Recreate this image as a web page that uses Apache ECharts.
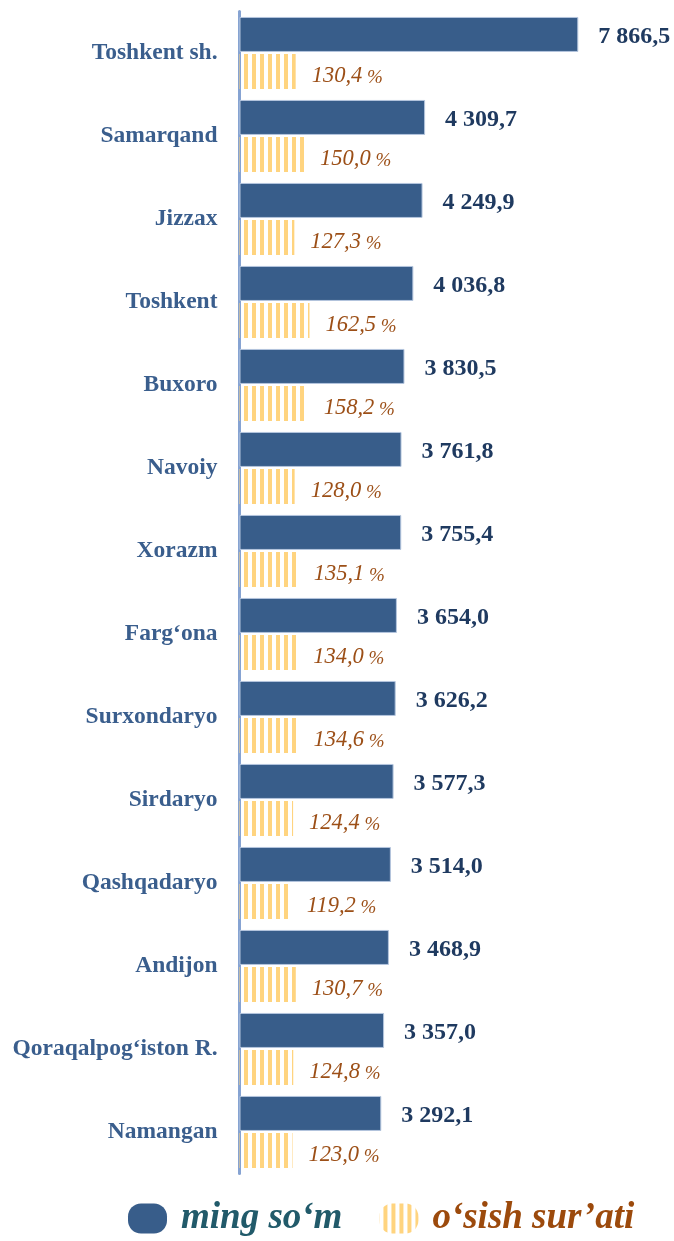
<!DOCTYPE html>
<html>
<head>
<meta charset="utf-8">
<script src="https://cdn.jsdelivr.net/npm/echarts@6/dist/echarts.min.js"></script>
<style>
html,body{margin:0;padding:0;background:#fff;}
#chart{width:674px;height:1241px;}
</style>
</head>
<body>
<div id="chart"></div>
<script>
var categories = ['Toshkent sh.', 'Samarqand', 'Jizzax', 'Toshkent', 'Buxoro', 'Navoiy', 'Xorazm', 'Farg‘ona', 'Surxondaryo', 'Sirdaryo', 'Qashqadaryo', 'Andijon', 'Qoraqalpog‘iston R.', 'Namangan'];
var incomeValues = [7866.5, 4309.7, 4249.9, 4036.8, 3830.5, 3761.8, 3755.4, 3654.0, 3626.2, 3577.3, 3514.0, 3468.9, 3357.0, 3292.1];
var growthValues = [130.4, 150.0, 127.3, 162.5, 158.2, 128.0, 135.1, 134.0, 134.6, 124.4, 119.2, 130.7, 124.8, 123.0];
var seriesNames = ['ming so‘m', 'o‘sish sur’ati'];

var FONT = '"Liberation Serif", "Times New Roman", serif';

function fmtNum(v) {
  var s = v.toFixed(1).split('.');
  var intPart = s[0].replace(/\B(?=(\d{3})+(?!\d))/g, ' ');
  return intPart + ',' + s[1];
}
function fmtPct(v) {
  return '{n|' + v.toFixed(1).replace('.', ',') + '}{p| %}';
}

// stripe pattern
var pc = document.createElement('canvas');
pc.width = 8; pc.height = 8;
var pctx = pc.getContext('2d');
pctx.fillStyle = '#FFD47F';
pctx.fillRect(4, 0, 4, 8);

var chart = echarts.init(document.getElementById('chart'), null, {renderer: 'canvas'});
var iconPath = 'path://M13,0 H26 A13,13 0 0 1 39,13 V17 A13,13 0 0 1 26,30 H13 A13,13 0 0 1 0,17 V13 A13,13 0 0 1 13,0 Z';

chart.setOption({
  animation: false,
  backgroundColor: '#fff',
  grid: {left: 239.5, top: 11.5, width: 430.7, height: 1162, containLabel: false},
  xAxis: [
    {type: 'value', min: 0, max: 10000, show: false},
    {type: 'value', min: 0, max: 1000, show: false}
  ],
  yAxis: {
    type: 'category',
    data: categories,
    inverse: true,
    axisLine: {show: true, lineStyle: {color: '#86A3D2', width: 3}},
    axisTick: {show: false},
    splitLine: {show: false},
    axisLabel: {margin: 22, fontFamily: FONT, fontWeight: 'bold', fontSize: 23.5, color: '#3A5E8D', padding: [2, 0, 0, 0]}
  },
  legend: {
    left: 123,
    top: 1195,
    itemWidth: 39,
    itemHeight: 30,
    itemGap: 37,
    icon: iconPath,
    itemStyle: {borderWidth: 0},
    textStyle: {fontFamily: FONT, fontWeight: 'bold', fontStyle: 'italic', fontSize: 37, padding: [6, 0, 0, 9]},
    data: [
      {name: seriesNames[0], textStyle: {color: '#215A6A'}},
      {name: seriesNames[1], textStyle: {color: '#9C4A0C'}}
    ]
  },
  series: [
    {
      name: seriesNames[0],
      type: 'bar',
      xAxisIndex: 0,
      data: incomeValues,
      barWidth: 35,
      barGap: '6%',
      itemStyle: {color: '#385D8A', borderColor: '#B4C5DD', borderWidth: 1},
      label: {
        show: true, position: 'right', distance: 20, offset: [0, 2],
        fontFamily: FONT, fontWeight: 'bold', fontSize: 24, color: '#1F3A60',
        formatter: function (p) { return fmtNum(p.value); }
      }
    },
    {
      name: seriesNames[1],
      type: 'bar',
      xAxisIndex: 1,
      data: growthValues,
      barWidth: 35,
      barGap: '6%',
      itemStyle: {color: {image: pc, repeat: 'repeat'}},
      label: {
        show: true, position: 'right', distance: 16, offset: [0, 5],
        color: '#9C4F17',
        formatter: function (p) { return fmtPct(p.value); },
        rich: {
          n: {fontFamily: FONT, fontStyle: 'italic', fontSize: 22.5, color: '#9C4F17'},
          p: {fontFamily: FONT, fontStyle: 'italic', fontSize: 19, color: '#9C4F17', padding: [2, 0, 0, 0]}
        }
      }
    }
  ]
});
</script>
</body>
</html>
